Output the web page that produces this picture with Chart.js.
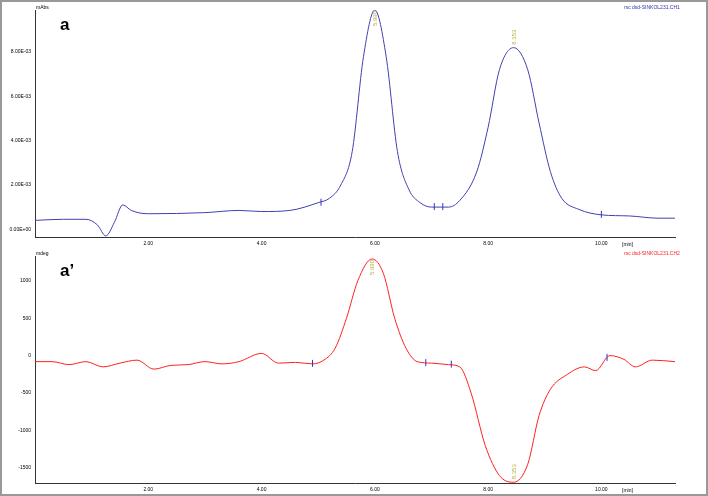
<!DOCTYPE html>
<html>
<head>
<meta charset="utf-8">
<script src="https://cdn.jsdelivr.net/npm/chart.js@4.4.0/dist/chart.umd.min.js"></script>
<style>
  body { margin: 0; background: #fff; }
  .frame { position: absolute; left: 0; top: 0; width: 704px; height: 492px; border: 2px solid #999; }
  .panel { position: absolute; left: 2px; width: 704px; height: 246px; }
</style>
</head>
<body>
<div class="frame"></div>
<div class="panel" style="top:2px"><canvas id="top"></canvas></div>
<div class="panel" style="top:248px"><canvas id="bottom"></canvas></div>
<script>
// retention time (min) and detector signals
const uvTime = [0, 0.5, 0.9, 1.1, 1.25, 1.4, 1.55, 1.7, 2.0, 3.0, 3.6, 4.0, 4.5, 5.0, 5.2, 5.4, 5.6, 5.8, 6.0, 6.2, 6.4, 6.6, 6.8, 7.0, 7.3, 7.5, 7.8, 8.0, 8.2, 8.45, 8.7, 8.9, 9.1, 9.3, 9.6, 10.0, 10.5, 11.0, 11.3];
const uvAbs = [0.4, 0.45, 0.45, 0.2, -0.3, 0.3, 1.1, 0.85, 0.7, 0.75, 0.85, 0.8, 0.85, 1.2, 1.4, 2.0, 3.5, 7.8, 9.9, 7.8, 3.5, 1.8, 1.2, 1.0, 1.0, 1.3, 2.6, 4.6, 7.2, 8.2, 7.2, 4.8, 2.6, 1.4, 0.9, 0.65, 0.6, 0.5, 0.5];
const cdTime = [0, 0.3, 0.6, 0.9, 1.2, 1.5, 1.8, 2.1, 2.4, 2.7, 3.0, 3.3, 3.6, 4.0, 4.3, 4.6, 4.9, 5.1, 5.3, 5.5, 5.7, 5.95, 6.15, 6.35, 6.55, 6.75, 7.0, 7.3, 7.5, 7.7, 7.95, 8.2, 8.45, 8.7, 8.9, 9.1, 9.4, 9.7, 9.9, 10.15, 10.4, 10.6, 10.9, 11.3];
const cdMdeg = [-80, -80, -120, -80, -150, -100, -60, -180, -130, -120, -80, -110, -80, 30, -100, -90, -110, -60, 100, 500, 1000, 1290, 1100, 500, 100, -80, -100, -120, -150, -500, -1200, -1600, -1690, -1450, -800, -450, -250, -150, -200, 0, -50, -150, -60, -80];
const xTicks = [2, 4, 6, 8, 10];
const uvTicks = [0, 2, 4, 6, 8];
const cdTicks = [-1500, -1000, -500, 0, 500, 1000];
const uvPeaks = [{ t: 6.0, v: 9.9, label: '5.990', above: false }, { t: 8.45, v: 8.2, label: '8.353', above: true }];
const cdPeaks = [{ t: 5.95, v: 1290, label: '5.990', above: false }, { t: 8.45, v: -1690, label: '8.353', above: true }];
const uvMarks = [[5.05, 1.2], [7.05, 1.0], [7.2, 1.0], [10.0, 0.65]];
const cdMarks = [[4.9, -110], [6.9, -100], [7.35, -120], [10.1, -30]];

const tickFont = { family: 'Arial, Liberation Sans', size: 5 };

function overlay(opts) {
  return {
    id: 'overlay',
    afterDatasetsDraw(chart) {
      const { ctx, scales: { x, y }, chartArea } = chart;
      ctx.save();
      ctx.strokeStyle = '#3333cc';
      ctx.lineWidth = 1;
      opts.marks.forEach(([t, v]) => {
        const px = x.getPixelForValue(t), py = y.getPixelForValue(v);
        ctx.beginPath(); ctx.moveTo(px, py - 4); ctx.lineTo(px, py + 3); ctx.stroke();
      });
      ctx.fillStyle = '#b5b040';
      ctx.font = '6px Arial';
      opts.peaks.forEach(p => {
        const px = x.getPixelForValue(p.t), py = y.getPixelForValue(p.v);
        ctx.save();
        ctx.translate(px + 2, p.above ? py - 3 : py + 16);
        ctx.rotate(-Math.PI / 2);
        ctx.fillText(p.label, 0, 0);
        ctx.restore();
      });
      ctx.fillStyle = '#000';
      ctx.font = 'bold 17px Arial';
      ctx.fillText(opts.letter, 58, 28);
      ctx.font = '5px Arial';
      ctx.fillText(opts.unit, 34, 7);
      ctx.fillText('[min]', 620, chartArea.bottom + 9);
      ctx.fillStyle = opts.color;
      ctx.fillText(opts.file, 622, 7);
      ctx.restore();
    }
  };
}

function makeChart(id, time, values, color, yMin, yMax, ticks, fmt, extra) {
  new Chart(document.getElementById(id), {
    type: 'line',
    data: {
      datasets: [{
        data: time.map((t, i) => ({ x: t, y: values[i] })),
        borderColor: color, borderWidth: 1, pointRadius: 0,
        tension: 0.4, cubicInterpolationMode: 'monotone'
      }]
    },
    options: {
      responsive: true, maintainAspectRatio: false, animation: false,
      layout: { padding: { top: 8, right: 31, bottom: 0, left: 0 } },
      plugins: { legend: { display: false }, tooltip: { enabled: false } },
      scales: {
        x: {
          type: 'linear', min: 0, max: 11.3,
          afterBuildTicks: a => { a.ticks = xTicks.map(v => ({ value: v })); },
          ticks: { font: tickFont, color: '#000', callback: v => v.toFixed(2), maxRotation: 0, padding: 1 },
          grid: { display: false, drawTicks: true, tickLength: 3, color: '#000' },
          border: { color: '#333' }
        },
        y: {
          min: yMin, max: yMax,
          afterBuildTicks: a => { a.ticks = ticks.map(v => ({ value: v })); },
          afterFit: a => { a.width = 33; },
          ticks: { font: tickFont, color: '#000', callback: fmt, padding: 1 },
          grid: { display: false, drawTicks: true, tickLength: 3, color: '#000' },
          border: { color: '#333' }
        }
      }
    },
    plugins: [overlay(extra)]
  });
}

makeChart('top', uvTime, uvAbs, '#4040b0', -0.35, 9.9, uvTicks,
  v => (v === 0 ? '0.00E+00' : v.toFixed(2) + 'E-03'),
  { letter: 'a', unit: 'mAbs', file: 'rsc dsd-SINKOL231.CH1', color: '#3333aa', peaks: uvPeaks, marks: uvMarks });
makeChart('bottom', cdTime, cdMdeg, '#ff2020', -1700, 1330, cdTicks,
  v => String(v),
  { letter: 'a\u2019', unit: 'mdeg', file: 'rsc dsd-SINKOL231.CH2', color: '#ff2020', peaks: cdPeaks, marks: cdMarks });
</script>
</body>
</html>
